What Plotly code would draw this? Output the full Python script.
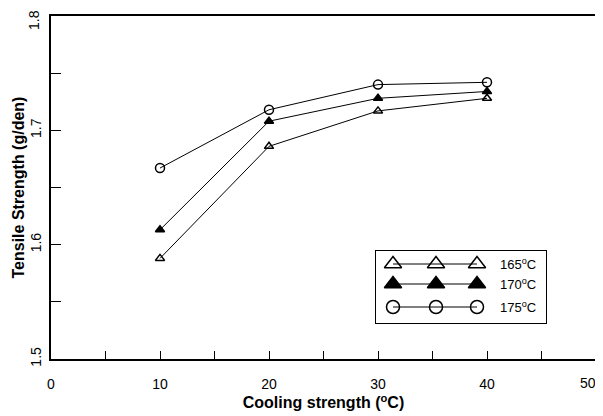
import plotly.graph_objects as go

cooling = [10, 20, 30, 40]
ts_165 = [1.588, 1.686, 1.717, 1.728]
ts_170 = [1.613, 1.708, 1.728, 1.734]
ts_175 = [1.667, 1.718, 1.740, 1.742]
series_names = ["165<sup>o</sup>C", "170<sup>o</sup>C", "175<sup>o</sup>C"]
x_ticks = [0, 10, 20, 30, 40, 50]
y_ticks = [1.5, 1.6, 1.7, 1.8]

# legend sample positions (in legend-box axis units)
leg_x = [17, 60, 101]
leg_y = [59, 39, 16]

FONT = "Liberation Sans, Arial, sans-serif"
TICK_SIZE = 14
symbols = ["triangle-up-open", "triangle-up", "circle-open"]
msizes = [8, 8, 9]
leg_sizes = [15, 15, 13]
series = [ts_165, ts_170, ts_175]

fig = go.Figure()
for name, ys, sym, ms in zip(series_names, series, symbols, msizes):
    fig.add_trace(go.Scatter(
        x=cooling, y=ys, mode="lines+markers", name=name,
        line=dict(color="black", width=1),
        marker=dict(symbol=sym, size=ms, color="black",
                    line=dict(color="black", width=1.5)),
        showlegend=False, xaxis="x", yaxis="y"))

# custom legend drawn on a small inset axis
for i, (name, sym, ls) in enumerate(zip(series_names, symbols, leg_sizes)):
    fig.add_trace(go.Scatter(
        x=leg_x, y=[leg_y[i]] * 3, mode="lines+markers",
        line=dict(color="black", width=1),
        marker=dict(symbol=sym, size=ls, color="black",
                    line=dict(color="black", width=1.5)),
        showlegend=False, hoverinfo="skip", xaxis="x2", yaxis="y2"))
    fig.add_annotation(x=122, y=leg_y[i], xref="x2", yref="y2", text=name,
                       showarrow=False, xanchor="left", yanchor="middle",
                       font=dict(family=FONT, size=13, color="black"))

# the page body has an 8px margin, so the figure starts at page pixel (8, 8)
OFF = 8
W, H = 603 - OFF, 416 - OFF
L, R, T, B = 51 - OFF, 7, 16 - OFF, 57
pw, ph = W - L - R, H - T - B

def px_to_paper_x(px):
    return (px - OFF - L) / pw

def px_to_paper_y(py):
    return (H - B - (py - OFF)) / ph

fig.add_annotation(x=px_to_paper_x(18), y=0.5, xref="paper", yref="paper",
                   text="<b>Tensile Strength (g/den)</b>", textangle=-90,
                   showarrow=False, xanchor="center", yanchor="middle",
                   font=dict(family=FONT, size=16, color="black"))

# edge tick labels drawn as annotations so they stay inside the figure
fig.add_annotation(x=px_to_paper_x(34), y=y_ticks[-1], xref="paper", yref="y",
                   text=str(y_ticks[-1]), textangle=-90, showarrow=False,
                   xanchor="center", yanchor="middle", yshift=-4,
                   font=dict(family=FONT, size=TICK_SIZE, color="black"))
fig.add_annotation(x=px_to_paper_x(598), y=px_to_paper_y(383), xref="paper", yref="paper",
                   text=str(x_ticks[-1]), showarrow=False,
                   xanchor="right", yanchor="middle",
                   font=dict(family=FONT, size=TICK_SIZE, color="black"))

fig.update_layout(
    width=W, height=H,
    margin=dict(l=L, r=R, t=T, b=B, autoexpand=False),
    paper_bgcolor="white", plot_bgcolor="white",
    font=dict(family=FONT, color="black", size=TICK_SIZE),
    xaxis=dict(range=[0, 50], tickvals=x_ticks,
               ticktext=[str(v) for v in x_ticks[:-1]] + [""],
               ticks="inside", ticklen=8,
               tickcolor="black", tickwidth=1, automargin=False,
               ticklabeloverflow="allow",
               minor=dict(dtick=5, tick0=0, ticks="inside", ticklen=8, tickcolor="black"),
               showline=True, linecolor="black", linewidth=1.5, mirror=True,
               showgrid=False, zeroline=False,
               tickfont=dict(size=TICK_SIZE), ticklabelstandoff=11,
               title=dict(text="<b>Cooling strength (<sup>o</sup>C)</b>",
                          font=dict(size=16), standoff=3)),
    yaxis=dict(range=[1.5, 1.8], tickvals=y_ticks,
               ticktext=[str(v) for v in y_ticks[:-1]] + [""],
               ticks="inside", ticklen=10, tickcolor="black", tickwidth=1, automargin=False,
               ticklabeloverflow="allow",
               minor=dict(dtick=0.05, tick0=1.5, ticks="inside", ticklen=10, tickcolor="black"),
               showline=True, linecolor="black", linewidth=1.5, mirror=True,
               showgrid=False, zeroline=False, tickangle=-90,
               tickfont=dict(size=TICK_SIZE), ticklabelstandoff=3),
    xaxis2=dict(domain=[px_to_paper_x(376), px_to_paper_x(546)], range=[0, 170],
                anchor="y2", showline=True, mirror=True, linecolor="black", linewidth=1,
                showticklabels=False, ticks="", showgrid=False, zeroline=False,
                fixedrange=True),
    yaxis2=dict(domain=[px_to_paper_y(323), px_to_paper_y(251)], range=[0, 72],
                anchor="x2", showline=True, mirror=True, linecolor="black", linewidth=1,
                showticklabels=False, ticks="", showgrid=False, zeroline=False,
                fixedrange=True),
)

fig.write_html("out.html")
